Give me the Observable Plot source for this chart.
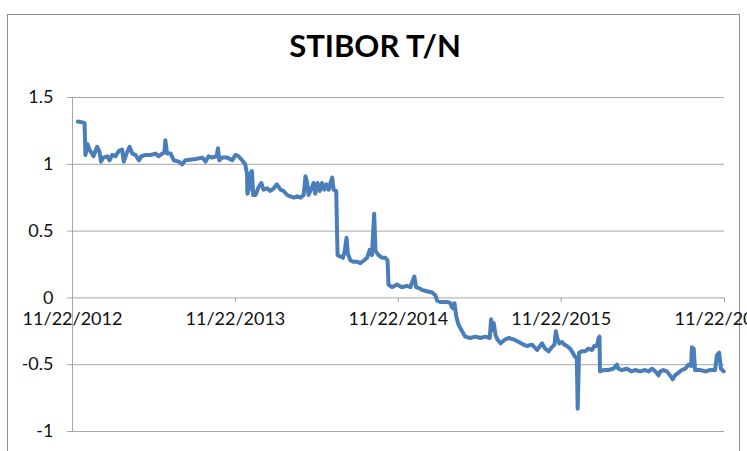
<!DOCTYPE html>
<html>
<head>
<meta charset="utf-8">
<script src="https://cdn.jsdelivr.net/npm/d3@7"></script>
<script src="https://cdn.jsdelivr.net/npm/@observablehq/plot@0.6"></script>
<style>
  html, body { margin: 0; padding: 0; background: #fff; }
  #wrap { position: relative; width: 747px; height: 451px; overflow: hidden; font-family: Lato, "Open Sans", sans-serif; }
  #frame { position: absolute; left: 7px; top: 14px; width: 733px; height: 460px; border: 1.5px solid #8f8f8f; box-sizing: border-box; }
  #title { position: absolute; left: 0; width: 750px; top: 30px; text-align: center; font: bold 31px/31px Lato, "Open Sans", sans-serif; color: #000; }
  #chart { position: absolute; left: 0; top: 0; }
</style>
</head>
<body>
<div id="wrap">
  <div id="frame"></div>
  <div id="chart"></div>
  <div id="title">STIBOR T/N</div>
</div>
<script>
const titleText = "STIBOR T/N";
const xTickLabels = ["11/22/2012", "11/22/2013", "11/22/2014", "11/22/2015", "11/22/2016"];
const yTicks = [-1, -0.5, 0, 0.5, 1, 1.5];

const dates = [
  "2012-12-04","2012-12-19","2012-12-21","2012-12-26","2012-12-30","2013-01-03","2013-01-08","2013-01-16",
  "2013-01-21","2013-01-25","2013-01-30","2013-02-08","2013-02-13","2013-02-19","2013-02-26","2013-03-06",
  "2013-03-13","2013-03-17","2013-03-23","2013-03-30","2013-04-05","2013-04-12","2013-04-20","2013-04-25",
  "2013-05-05","2013-05-16","2013-05-27","2013-06-03","2013-06-11","2013-06-16","2013-06-18","2013-06-22",
  "2013-06-30","2013-07-07","2013-07-18","2013-07-26","2013-08-02","2013-08-25","2013-09-09","2013-09-16",
  "2013-09-23","2013-10-01","2013-10-11","2013-10-14","2013-10-17","2013-10-23","2013-11-04","2013-11-15",
  "2013-11-22","2013-11-29","2013-12-07","2013-12-14","2013-12-18","2013-12-19","2013-12-22","2013-12-26",
  "2013-12-29","2014-01-01","2014-01-06","2014-01-13","2014-01-19","2014-01-24","2014-02-01","2014-02-08",
  "2014-02-16","2014-02-23","2014-03-03","2014-03-10","2014-03-18","2014-03-25","2014-04-02","2014-04-09",
  "2014-04-17","2014-04-24","2014-04-28","2014-05-02","2014-05-05","2014-05-13","2014-05-16","2014-05-20",
  "2014-05-25","2014-05-30","2014-06-04","2014-06-09","2014-06-14","2014-06-19","2014-06-23","2014-06-27",
  "2014-06-30","2014-07-06","2014-07-08","2014-07-09","2014-07-15","2014-07-21","2014-07-25","2014-07-29",
  "2014-08-01","2014-08-07","2014-08-14","2014-08-22","2014-08-29","2014-09-06","2014-09-13","2014-09-19",
  "2014-09-24","2014-09-29","2014-10-02","2014-10-09","2014-10-17","2014-10-24","2014-10-29","2014-10-31",
  "2014-11-08","2014-11-19","2014-11-30","2014-12-11","2014-12-19","2014-12-28","2015-01-01","2015-01-10",
  "2015-01-14","2015-01-25","2015-02-06","2015-02-13","2015-02-17","2015-02-24","2015-03-11","2015-03-19",
  "2015-03-22","2015-03-26","2015-03-28","2015-04-01","2015-04-06","2015-04-14","2015-04-21","2015-05-02",
  "2015-05-14","2015-05-25","2015-06-05","2015-06-15","2015-06-18","2015-06-21","2015-06-24","2015-06-28",
  "2015-07-02","2015-07-09","2015-07-20","2015-07-27","2015-08-07","2015-08-19","2015-08-30","2015-09-06",
  "2015-09-18","2015-09-29","2015-10-10","2015-10-17","2015-10-25","2015-11-01","2015-11-07","2015-11-10",
  "2015-11-14","2015-11-18","2015-11-24","2015-11-29","2015-12-05","2015-12-12","2015-12-18","2015-12-23",
  "2015-12-27","2015-12-29","2016-01-01","2016-01-07","2016-01-15","2016-01-22","2016-01-30","2016-02-04",
  "2016-02-10","2016-02-14","2016-02-16","2016-02-17","2016-02-25","2016-03-07","2016-03-18","2016-03-26",
  "2016-03-29","2016-04-06","2016-04-17","2016-04-28","2016-05-06","2016-05-17","2016-05-28","2016-06-05",
  "2016-06-12","2016-06-20","2016-06-27","2016-07-01","2016-07-08","2016-07-16","2016-07-23","2016-07-29",
  "2016-08-03","2016-08-11","2016-08-18","2016-08-26","2016-09-02","2016-09-08","2016-09-10","2016-09-14",
  "2016-09-17","2016-09-28","2016-10-10","2016-10-21","2016-11-01","2016-11-05","2016-11-10","2016-11-14",
  "2016-11-20"
];
const rates = [
  1.32,1.31,1.07,1.15,1.11,1.09,1.06,1.13,
  1.10,1.02,1.05,1.06,1.03,1.07,1.06,1.10,
  1.11,1.02,1.08,1.13,1.08,1.07,1.03,1.06,
  1.07,1.07,1.08,1.06,1.08,1.09,1.18,1.08,
  1.08,1.03,1.02,1.00,1.03,1.04,1.05,1.02,
  1.06,1.05,1.06,1.12,1.03,1.05,1.05,1.03,
  1.07,1.06,1.03,1.00,0.93,0.78,0.81,0.93,
  0.95,0.77,0.77,0.83,0.86,0.81,0.82,0.80,
  0.82,0.85,0.81,0.80,0.77,0.76,0.75,0.76,
  0.75,0.77,0.91,0.86,0.77,0.83,0.86,0.78,
  0.86,0.80,0.86,0.81,0.85,0.81,0.86,0.90,
  0.81,0.80,0.46,0.32,0.31,0.30,0.35,0.45,
  0.33,0.28,0.27,0.27,0.26,0.28,0.30,0.36,
  0.32,0.63,0.35,0.32,0.30,0.30,0.28,0.10,
  0.08,0.10,0.08,0.09,0.08,0.16,0.08,0.07,
  0.06,0.05,0.04,0.02,-0.02,-0.03,-0.03,-0.04,
  -0.07,-0.08,-0.04,-0.14,-0.20,-0.25,-0.29,-0.30,
  -0.29,-0.30,-0.29,-0.30,-0.16,-0.24,-0.19,-0.28,
  -0.31,-0.34,-0.31,-0.30,-0.31,-0.33,-0.35,-0.36,
  -0.35,-0.39,-0.34,-0.38,-0.40,-0.37,-0.35,-0.25,
  -0.31,-0.34,-0.33,-0.35,-0.36,-0.38,-0.41,-0.44,
  -0.45,-0.83,-0.41,-0.40,-0.40,-0.38,-0.39,-0.36,
  -0.36,-0.30,-0.29,-0.55,-0.54,-0.54,-0.53,-0.50,
  -0.53,-0.54,-0.53,-0.55,-0.54,-0.55,-0.54,-0.55,
  -0.53,-0.55,-0.58,-0.55,-0.54,-0.55,-0.58,-0.61,
  -0.58,-0.56,-0.54,-0.53,-0.50,-0.51,-0.37,-0.38,
  -0.54,-0.54,-0.55,-0.54,-0.54,-0.43,-0.41,-0.53,
  -0.55
];

const parseTick = d3.utcParse("%m/%d/%Y");
const xTicks = xTickLabels.map(parseTick);
const data = dates.map((d, i) => ({date: new Date(d + "T00:00:00Z"), rate: rates[i]}));

document.getElementById("title").textContent = titleText;

const gridColor = "#a6a6a6";
const chart = Plot.plot({
  width: 747,
  height: 451,
  marginLeft: 72,
  marginRight: 23,
  marginTop: 97,
  marginBottom: 20,
  style: {fontFamily: "Lato, 'Open Sans', sans-serif", fontSize: "18px", color: "#111", background: "transparent", overflow: "hidden"},
  x: {type: "utc", domain: [xTicks[0], xTicks[xTicks.length - 1]], axis: null},
  y: {domain: [-1, 1.5], axis: null},
  marks: [
    Plot.ruleY(yTicks, {y: d => d, stroke: gridColor, strokeWidth: 1, insetLeft: -5}),
    Plot.ruleX([xTicks[0]], {x: d => d, stroke: gridColor, strokeWidth: 1}),
    Plot.ruleX(xTicks, {x: d => d, y1: 0, y2: 0, insetBottom: -5, stroke: gridColor, strokeWidth: 1}),
    Plot.text(yTicks, {y: d => d, frameAnchor: "left", textAnchor: "end", dx: -19, text: d => String(d), fill: "#111"}),
    Plot.text(xTicks, {x: d => d, y: 0, dy: 21, text: (d, i) => xTickLabels[i], fill: "#111"}),
    Plot.line(data, {x: "date", y: "rate", stroke: "#4a7ebb", strokeWidth: 4, strokeLinejoin: "round", strokeLinecap: "round"})
  ]
});
document.getElementById("chart").appendChild(chart);
</script>
</body>
</html>
